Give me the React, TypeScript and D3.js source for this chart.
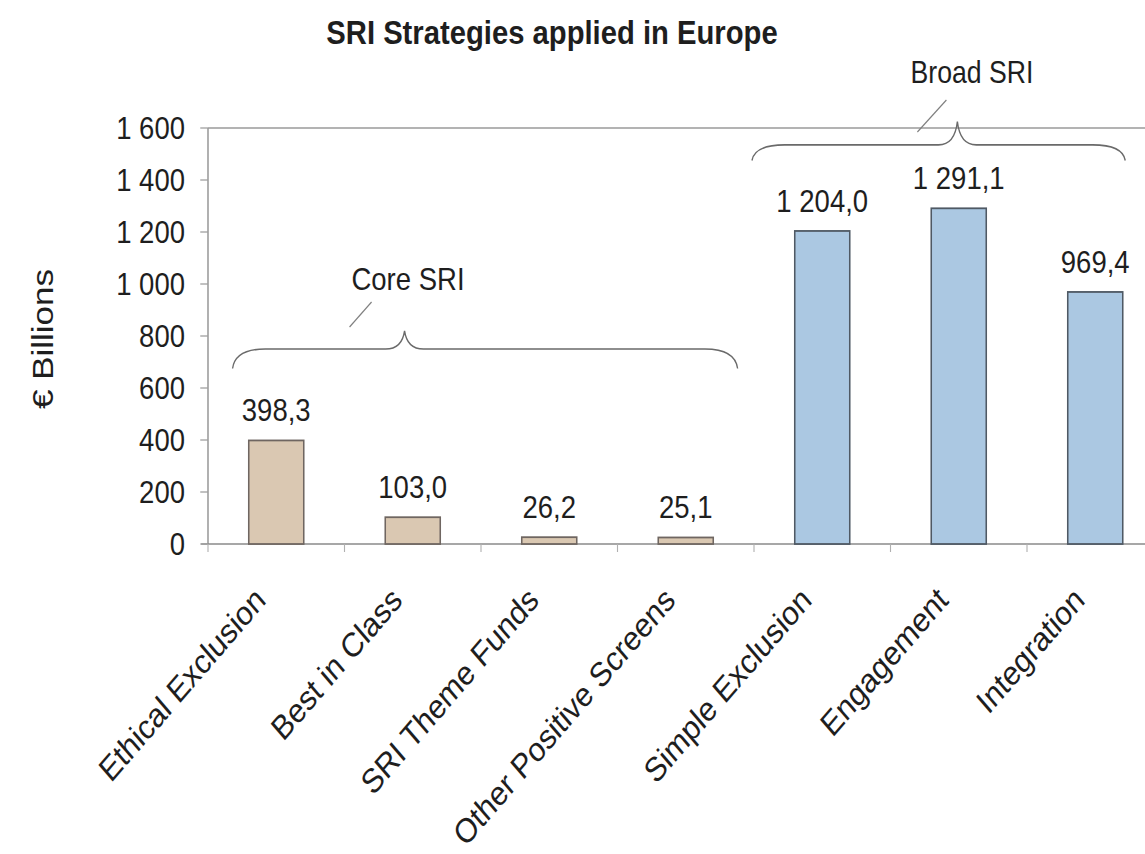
import React from "react";
import * as d3 from "d3";

const categories = [
  "Ethical Exclusion",
  "Best in Class",
  "SRI Theme Funds",
  "Other Positive Screens",
  "Simple Exclusion",
  "Engagement",
  "Integration",
];
const values = [398.3, 103.0, 26.2, 25.1, 1204.0, 1291.1, 969.4];
const valueLabels = ["398,3", "103,0", "26,2", "25,1", "1 204,0", "1 291,1", "969,4"];
const groups = ["core", "core", "core", "core", "broad", "broad", "broad"];
const yTicks = [0, 200, 400, 600, 800, 1000, 1200, 1400, 1600];
const yTickLabels = ["0", "200", "400", "600", "800", "1 000", "1 200", "1 400", "1 600"];
const groupLabels = ["Core SRI", "Broad SRI"];

const W = 1145;
const H = 854;
// the picture is horizontally compressed; draw in an unsqueezed frame
const SX = 0.86;
const left = 208 / SX;
const top = 128;
const bottom = 544;
const step = 136.5 / SX;
const right = left + step * categories.length;
const FONT = "'Liberation Sans', Arial, sans-serif";
const TXT = "#1e1e1e";

export default function App() {
  const x = d3
    .scaleBand<string>()
    .domain(categories)
    .range([left, right])
    .paddingInner(0.597)
    .paddingOuter(0.2985);
  const y = d3.scaleLinear().domain([0, 1600]).range([bottom, top]);
  const fill = (g: string) => (g === "core" ? "#dac8b2" : "#abc8e2");
  const stroke = (g: string) => (g === "core" ? "#6f6661" : "#4f5964");
  const cx = (c: string) => (x(c) as number) + x.bandwidth() / 2;
  const bandStart = (i: number) => left + i * x.step();

  const brace = (x1: number, x2: number, xm: number, yEnd: number, yFlat: number, yPeak: number) => {
    const p = d3.path();
    p.moveTo(x1, yEnd);
    p.quadraticCurveTo(x1 + 3, yFlat, x1 + 38, yFlat);
    p.lineTo(xm - 22, yFlat);
    p.quadraticCurveTo(xm - 3, yFlat, xm, yPeak);
    p.quadraticCurveTo(xm + 3, yFlat, xm + 22, yFlat);
    p.lineTo(x2 - 38, yFlat);
    p.quadraticCurveTo(x2 - 3, yFlat, x2, yEnd);
    return p.toString();
  };

  const coreL = bandStart(0) + 0.18 * step;
  const coreR = bandStart(4) - 0.12 * step;
  const coreM = bandStart(1) + 0.44 * step;
  const broadL = bandStart(4) - 0.015 * step;
  const broadR = bandStart(7) - 0.28 * step;
  const broadM = bandStart(5) + 0.49 * step;

  return (
    <svg
      width={W}
      height={H}
      style={{ position: "absolute", left: 0, top: 0, background: "#fff" }}
      fontFamily={FONT}
    >
      <g transform={`scale(${SX},1)`}>
        <text x={552 / SX} y={44} textAnchor="middle" fontSize={34} fontWeight="bold" fill={TXT}>
          SRI Strategies applied in Europe
        </text>
        <text
          transform={`translate(${53 / SX},${339}) rotate(-90)`}
          textAnchor="middle"
          fontSize={35}
          fill={TXT}
        >
          € Billions
        </text>

        {/* plot frame */}
        <line x1={left} x2={right} y1={top} y2={top} stroke="#9a9a9a" strokeWidth={1.6} />
        <line x1={left} x2={left} y1={top} y2={bottom} stroke="#9a9a9a" strokeWidth={1.8} />
        <line x1={left - 8} x2={right} y1={bottom} y2={bottom} stroke="#8a8a8a" strokeWidth={1.6} />

        {yTicks.map((t, i) => (
          <g key={t}>
            <line x1={left - 9} x2={left} y1={y(t)} y2={y(t)} stroke="#a0a0a0" strokeWidth={1.3} />
            <text x={185 / SX} y={y(t) + 11.5} textAnchor="end" fontSize={32} fill={TXT}>
              {yTickLabels[i]}
            </text>
          </g>
        ))}

        {categories.map((c, i) => (
          <line
            key={"t" + c}
            x1={bandStart(i)}
            x2={bandStart(i)}
            y1={bottom}
            y2={bottom + 8}
            stroke="#b0b0b0"
            strokeWidth={1.3}
          />
        ))}

        {categories.map((c, i) => (
          <g key={c}>
            <rect
              x={x(c)}
              y={y(values[i])}
              width={x.bandwidth()}
              height={bottom - y(values[i])}
              fill={fill(groups[i])}
              stroke={stroke(groups[i])}
              strokeWidth={1.8}
            />
            <text x={cx(c)} y={y(values[i]) - 19} textAnchor="middle" fontSize={32} fill={TXT}>
              {valueLabels[i]}
            </text>
            <text
              transform={`translate(${cx(c) - 9 / SX},${bottom + 58}) rotate(-45)`}
              textAnchor="end"
              fontSize={34}
              fill={TXT}
            >
              {c}
            </text>
          </g>
        ))}

        {/* group braces */}
        <path
          d={brace(coreL, coreR, coreM, y(675), y(750), y(820))}
          fill="none"
          stroke="#6a6a6a"
          strokeWidth={1.6}
        />
        <line x1={coreM - 55 / SX} x2={coreM - 33 / SX} y1={327} y2={302} stroke="#808080" strokeWidth={1.4} />
        <text x={408 / SX} y={290} textAnchor="middle" fontSize={32} fill={TXT}>
          {groupLabels[0]}
        </text>

        <path
          d={brace(broadL, broadR, broadM, y(1475), y(1535), y(1625))}
          fill="none"
          stroke="#6a6a6a"
          strokeWidth={1.6}
        />
        <line x1={broadM - 40 / SX} x2={broadM - 11 / SX} y1={132} y2={100} stroke="#808080" strokeWidth={1.4} />
        <text x={972 / SX} y={83} textAnchor="middle" fontSize={31} fill={TXT}>
          {groupLabels[1]}
        </text>
      </g>
    </svg>
  );
}
